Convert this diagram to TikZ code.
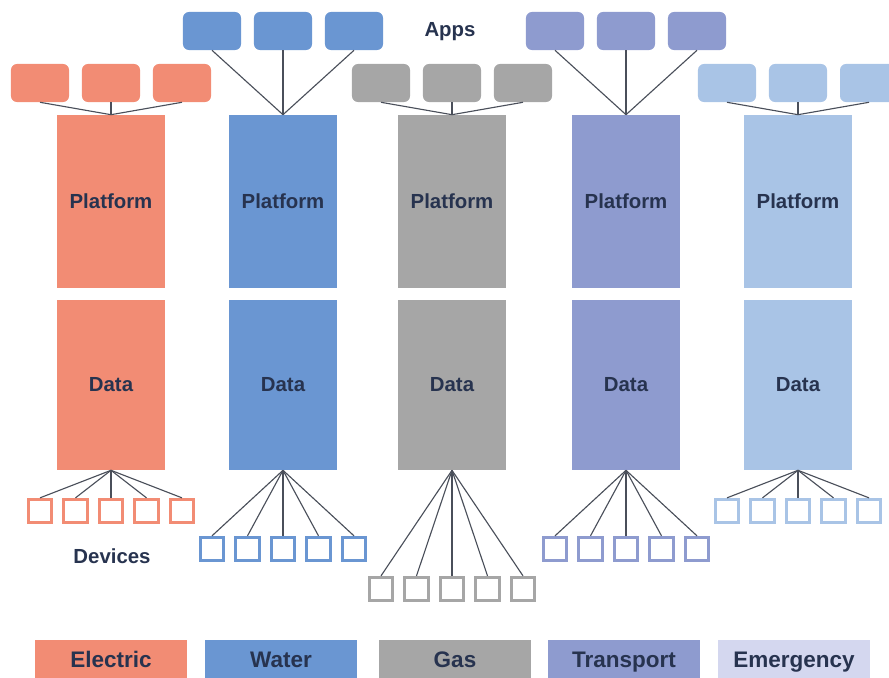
\documentclass[tikz,border=0pt]{standalone}
\usepackage{fontspec}
\setmainfont{Liberation Sans}
\usetikzlibrary{positioning}

\definecolor{elec}{HTML}{F28C74}
\definecolor{water}{HTML}{6A96D2}
\definecolor{gas}{HTML}{A6A6A6}
\definecolor{trans}{HTML}{8E9BCF}
\definecolor{emer}{HTML}{A9C4E6}
\definecolor{emerkey}{HTML}{D4D7EF}
\definecolor{navy}{HTML}{27334F}
\definecolor{linkgray}{HTML}{4A4F5A}

\tikzset{
  lbl/.style={text=navy, font=\bfseries\fontsize{14.5}{16}\selectfont},
  appbox/.style={rectangle, rounded corners=1.5mm, minimum width=1.45cm, minimum height=0.95cm, inner sep=0pt},
  stack/.style={rectangle, minimum width=2.675cm, inner sep=0pt, lbl},
  devbox/.style={rectangle, line width=2.2pt, fill=white, minimum size=0.58cm, inner sep=0pt},
  link/.style={draw=linkgray, line width=0.8pt},
  keybox/.style={rectangle, minimum width=3.8cm, minimum height=1.1cm, inner sep=0pt, text height=0.72em, text depth=0pt, text=navy, font=\bfseries\fontsize{16}{18}\selectfont}
}

\begin{document}
\begin{tikzpicture}[x=0.025cm, y=-0.025cm]

  % page frame
  \useasboundingbox (0,0) rectangle (889,678);

  % columns: platform, data, apps above, devices below
  \foreach \i/\cx/\col/\ay/\dy in {1/111/elec/83/511, 2/283/water/31/549, 3/452/gas/83/589, 4/626/trans/31/549, 5/798/emer/83/511} {
    \node (plat-\i) at (\cx,201.5) [stack, fill=\col, minimum height=4.325cm] {Platform};
    \node (data-\i) at (\cx,385) [stack, fill=\col, minimum height=4.25cm] {Data};

    % apps
    \foreach \j/\dx in {1/-71, 2/0, 3/71} {
      \node (app-\i-\j) at (\cx+\dx,\ay) [appbox, fill=\col] {};
      \draw [link] (app-\i-\j.south) -- (plat-\i.north);
    }

    % devices
    \foreach \j/\dx in {1/-71, 2/-35.5, 3/0, 4/35.5, 5/71} {
      \node (dev-\i-\j) at (\cx+\dx,\dy) [devbox, draw=\col] {};
      \draw [link] (data-\i.south) -- (dev-\i-\j.north);
    }
  }

  % labels
  \node (apps) at (450,32) [lbl] {Apps};
  \node (devices) at (112,556) [lbl] {Devices};

  % legend
  \foreach \i/\kx/\col/\name in {1/111/elec/Electric, 2/281/water/Water, 3/455/gas/Gas, 4/624/trans/Transport, 5/794/emerkey/Emergency} {
    \node (key-\i) at (\kx,662) [keybox, fill=\col] {\name};
  }

\end{tikzpicture}
\end{document}
